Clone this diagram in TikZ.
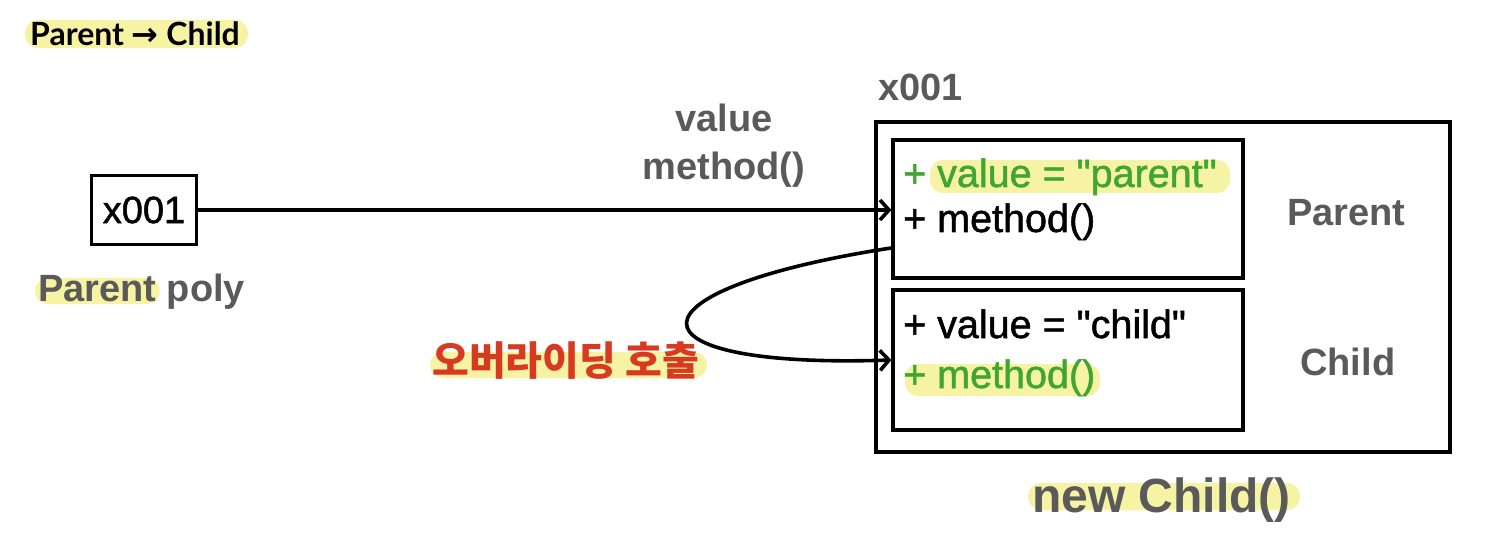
\documentclass[tikz,border=0pt]{standalone}
\usepackage{fontspec}
\setmainfont{Liberation Sans}
\newfontfamily\medfont{Liberation Sans}[FakeBold=1.3]
\newfontfamily\titlefont{Lato}
\newfontfamily\arrowfont{DejaVu Sans}
\newfontfamily\kofont{Noto Sans CJK KR}
\usepackage{xcolor}
\usepackage{tikz}
\usetikzlibrary{calc,positioning,arrows.meta}
\definecolor{hlyellow}{HTML}{F6F3A4}
\definecolor{labelgray}{HTML}{5A5A5A}
\definecolor{codegreen}{HTML}{41A62F}
\definecolor{callred}{HTML}{D83A20}
\definecolor{textmain}{HTML}{000000}

\begin{document}
\begin{tikzpicture}[
  x=1pt, y=-1pt,
  membox/.style={
    rectangle, draw=textmain, line width=3.2pt,
    inner sep=0pt,
  },
  hilite/.style={fill=hlyellow, rounded corners=13pt},
  txt/.style={inner sep=0pt, anchor=base west},
  ptr/.style={draw=textmain, line width=3.6pt,
    -{Straight Barb[length=9pt,width=20pt,line width=3.6pt]}},
]
\useasboundingbox (0,0) rectangle (1490,534);

% highlights
\fill[hilite] (25,20) rectangle (248,48);
\fill[hilite] (35,278) rectangle (160,304);
\fill[hilite] (930,160) rectangle (1230,193);
\fill[hilite] (905,364) rectangle (1100,396);
\fill[hilite] (430,352) rectangle (707,378);
\fill[hilite] (1028,483) rectangle (1300,510);

\node[txt] (title) at (30,46) {
  {\fontsize{32}{36}\selectfont\titlefont\bfseries Parent {\arrowfont\bfseries →} Child}
};

% reference variable
\node[membox, minimum width=105pt, minimum height=69pt] (ref) at (144,210) {
  {\fontsize{38}{44}\selectfont\medfont x001}
};
\node[txt] (refname) at (38,302) {
  {\fontsize{38}{44}\selectfont\bfseries\color{labelgray}Parent poly}
};

% instance
\node[txt] (addr) at (878,101) {
  {\fontsize{38}{44}\selectfont\bfseries\color{labelgray}x001}
};
\node[membox, minimum width=574pt, minimum height=330pt] (obj) at (1163,287) {};
\node[membox, minimum width=350pt, minimum height=138pt] (pbox) at (1068,209) {};
\node[membox, minimum width=350pt, minimum height=140pt] (cbox) at (1068,360) {};

\node[txt] (pval) at (903,187) {
  {\fontsize{39.5}{44}\selectfont\medfont\color{codegreen}+ value = \textquotedbl parent\textquotedbl}
};
\node[txt] (pmeth) at (903,232) {
  {\fontsize{39.5}{44}\selectfont\medfont\color{textmain}+ method()}
};
\node[txt] (plabel) at (1287,226) {
  {\fontsize{38}{44}\selectfont\bfseries\color{labelgray}Parent}
};

\node[txt] (cval) at (903,338) {
  {\fontsize{39.5}{44}\selectfont\medfont\color{textmain}+ value = \textquotedbl child\textquotedbl}
};
\node[txt] (cmeth) at (903,388) {
  {\fontsize{39.5}{44}\selectfont\medfont\color{codegreen}+ method()}
};
\node[txt] (clabel) at (1300,375) {
  {\fontsize{38}{44}\selectfont\bfseries\color{labelgray}Child}
};

\node[txt] (newcall) at (1032,512) {
  {\fontsize{48}{54}\selectfont\bfseries\color{labelgray}new Child()}
};

% pointer
\node[inner sep=0pt, anchor=base] (acc1) at (724,132) {
  {\fontsize{38}{44}\selectfont\bfseries\color{labelgray}value}
};
\node[inner sep=0pt, anchor=base] (acc2) at (724,180) {
  {\fontsize{38}{44}\selectfont\bfseries\color{labelgray}method()}
};
\draw[ptr] (ref.east) -- (ref.east -| pbox.west);

% override call
\coordinate (callstart) at (891,248);
\draw[ptr] (callstart) .. controls (619,290) and (619,369) .. (cbox.west);
\node[txt] (override) at (432,375) {
  {\fontsize{40}{46}\selectfont\kofont\bfseries\color{callred}오버라이딩 호출}
};

\end{tikzpicture}
\end{document}
